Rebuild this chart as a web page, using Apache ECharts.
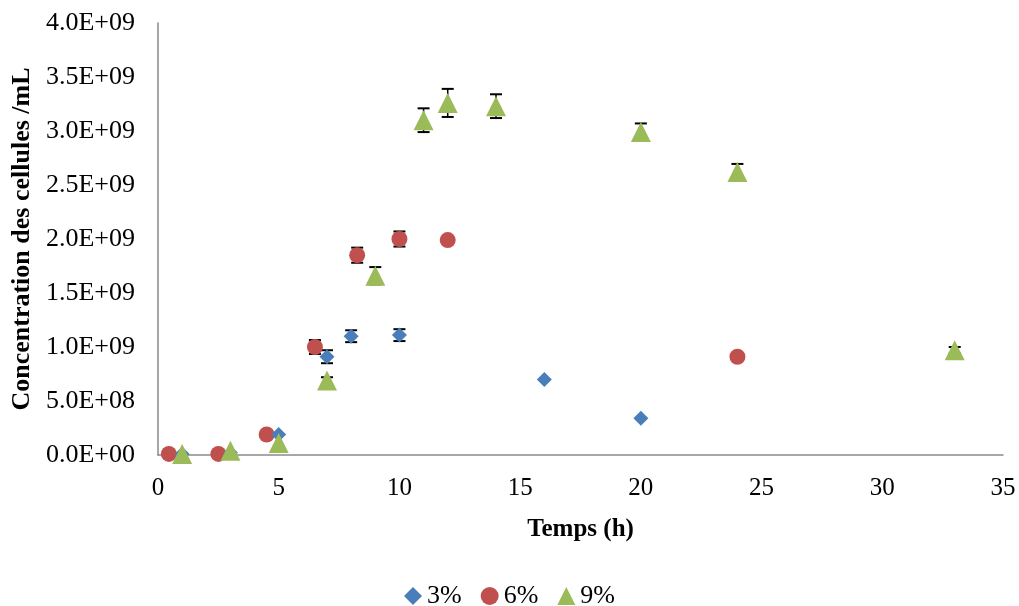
<!DOCTYPE html>
<html>
<head>
<meta charset="utf-8">
<script src="https://cdn.jsdelivr.net/npm/echarts@6/dist/echarts.min.js"></script>
<style>
html,body{margin:0;padding:0;background:#fff;}
#c{width:1019px;height:606px;}
</style>
</head>
<body>
<div id="c"></div>
<script>
// ---- data ----
var seriesNames = ['3%', '6%', '9%'];

var x3 = [1, 3, 5, 7, 8, 10, 16, 20];
var y3 = [0.01e9, 0.02e9, 0.19e9, 0.91e9, 1.10e9, 1.11e9, 0.70e9, 0.34e9];
var e3 = [0, 0, 0, 0.06e9, 0.055e9, 0.055e9, 0, 0];

var x6 = [0.45, 2.5, 4.5, 6.5, 8.25, 10, 12, 24];
var y6 = [0.01e9, 0.01e9, 0.19e9, 1.0e9, 1.85e9, 2.0e9, 1.99e9, 0.91e9];
var e6 = [0, 0, 0, 0.065e9, 0.07e9, 0.07e9, 0, 0];

var x9 = [1, 3, 5, 7, 9, 11, 12, 14, 20, 24, 33];
var y9 = [0.01e9, 0.04e9, 0.11e9, 0.69e9, 1.66e9, 3.10e9, 3.26e9, 3.23e9, 2.99e9, 2.62e9, 0.97e9];
var e9 = [0, 0, 0, 0.03e9, 0.08e9, 0.11e9, 0.13e9, 0.11e9, 0.08e9, 0.075e9, 0.03e9];

var xTitle = 'Temps (h)';
var yTitle = 'Concentration des cellules /mL';

// ---- build ----
function pts(xs, ys) { return xs.map(function (x, i) { return [x, ys[i]]; }); }
function errPts(xs, ys, es) {
  var out = [];
  xs.forEach(function (x, i) { if (es[i] > 0) out.push([x, ys[i], es[i]]); });
  return out;
}
function fmtExp(v) {
  var s = Number(v).toExponential(1).split('e');
  var exp = parseInt(s[1], 10);
  var sign = exp < 0 ? '-' : '+';
  var a = Math.abs(exp);
  return s[0] + 'E' + sign + (a < 10 ? '0' + a : '' + a);
}
function errRender(params, api) {
  var x = api.value(0), y = api.value(1), e = api.value(2);
  var top = api.coord([x, y + e]);
  var bot = api.coord([x, y - e]);
  var hw = 6;
  var st = { stroke: '#000', lineWidth: 2 };
  return {
    type: 'group',
    children: [
      { type: 'line', shape: { x1: top[0], y1: top[1], x2: bot[0], y2: bot[1] }, style: { stroke: '#000', lineWidth: 1.5 } },
      { type: 'line', shape: { x1: top[0] - hw, y1: top[1], x2: top[0] + hw, y2: top[1] }, style: st },
      { type: 'line', shape: { x1: bot[0] - hw, y1: bot[1], x2: bot[0] + hw, y2: bot[1] }, style: st }
    ]
  };
}

var FONT = '"Liberation Serif", "Times New Roman", serif';
var colors = ['#4A7EBB', '#C0504D', '#9BBB59'];

var chart = echarts.init(document.getElementById('c'), null, { renderer: 'canvas' });
chart.setOption({
  animation: false,
  backgroundColor: '#fff',
  textStyle: { fontFamily: FONT, color: '#000' },
  grid: { left: 158, right: 16, top: 23, bottom: 151, containLabel: false },
  legend: {
    top: 578,
    left: 'center',
    itemGap: 19,
    itemWidth: 18,
    itemHeight: 18,
    textStyle: { fontFamily: FONT, fontSize: 26, color: '#000' },
    data: [
      { name: seriesNames[0], icon: 'diamond', itemStyle: { color: colors[0] } },
      { name: seriesNames[1], icon: 'circle', itemStyle: { color: colors[1] } },
      { name: seriesNames[2], icon: 'triangle', itemStyle: { color: colors[2] } }
    ]
  },
  xAxis: {
    type: 'value',
    min: 0, max: 35, interval: 5,
    name: xTitle,
    nameLocation: 'middle',
    nameGap: 62,
    nameTextStyle: { fontFamily: FONT, fontSize: 25, fontWeight: 'bold', color: '#000' },
    axisLine: { show: true, onZero: false, lineStyle: { color: '#8a8a8a', width: 1.5 } },
    axisTick: { show: false },
    splitLine: { show: false },
    axisLabel: { fontFamily: FONT, fontSize: 25, color: '#000', margin: 21 }
  },
  yAxis: {
    type: 'value',
    min: 0, max: 4e9, interval: 5e8,
    name: yTitle,
    nameLocation: 'middle',
    nameGap: 122,
    nameTextStyle: { fontFamily: FONT, fontSize: 26, fontWeight: 'bold', color: '#000' },
    axisLine: { show: true, lineStyle: { color: '#8a8a8a', width: 1.5 } },
    axisTick: { show: false },
    splitLine: { show: false },
    axisLabel: { fontFamily: FONT, fontSize: 26, color: '#000', margin: 23, formatter: fmtExp }
  },
  series: [
    { type: 'custom', name: 'err3', renderItem: errRender, data: errPts(x3, y3, e3), z: 1, silent: true },
    { type: 'custom', name: 'err6', renderItem: errRender, data: errPts(x6, y6, e6), z: 1, silent: true },
    { type: 'custom', name: 'err9', renderItem: errRender, data: errPts(x9, y9, e9), z: 1, silent: true },
    { type: 'scatter', name: seriesNames[1], symbol: 'circle', symbolSize: 16, itemStyle: { color: colors[1], opacity: 1 }, data: pts(x6, y6), z: 2 },
    { type: 'scatter', name: seriesNames[0], symbol: 'diamond', symbolSize: 15, itemStyle: { color: colors[0], opacity: 1 }, data: pts(x3, y3), z: 3 },
    { type: 'scatter', name: seriesNames[2], symbol: 'triangle', symbolSize: 20, itemStyle: { color: colors[2], opacity: 1 }, data: pts(x9, y9), z: 4 }
  ]
});
</script>
</body>
</html>
